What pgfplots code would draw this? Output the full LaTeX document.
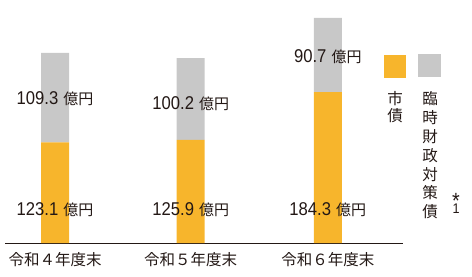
\documentclass[border=0pt]{standalone}
\usepackage{fontspec}
\setmainfont{Noto Sans CJK JP}
\newfontfamily\cjk{Noto Sans CJK JP}
\newfontfamily\num[FakeStretch=0.9]{Liberation Sans}
\usepackage{pgfplots}
\pgfplotsset{compat=1.18}
\definecolor{orng}{HTML}{F7B52C}
\definecolor{gry}{HTML}{C8C8C8}
\definecolor{txt}{HTML}{231815}
\newcommand\val[1]{{\num\fontsize{18.5bp}{20bp}\selectfont #1}\hspace{5bp}{\cjk\fontsize{15bp}{16bp}\selectfont 億円}}
\begin{document}
\begin{tikzpicture}
\path[use as bounding box] (0,0) rectangle (472bp,277bp);
\begin{axis}[
  at={(5bp,34bp)}, anchor=south west,
  scale only axis, width=398bp, height=225bp,
  xmin=5, xmax=403, ymin=0, ymax=275,
  ybar stacked, bar width=28bp,
  axis y line=none, axis x line*=bottom,
  x axis line style={-, line width=0.8bp, color=txt},
  xtick={55,190.7,327.8},
  xticklabels={令和４年度末,令和５年度末,令和６年度末},
  major tick length=0pt,
  xticklabel style={font=\cjk\fontsize{15.5bp}{17bp}\selectfont, anchor=center, yshift=-17bp, text=txt},
  clip=false,
]
\addplot[fill=orng, draw=none] coordinates {(55,123.1) (190.7,125.9) (327.8,184.3)};
\addplot[fill=gry, draw=none] coordinates {(55,109.3) (190.7,100.2) (327.8,90.7)};
\coordinate (o1) at (axis cs:55,34.2);
\coordinate (o2) at (axis cs:190.7,34.2);
\coordinate (o3) at (axis cs:327.8,34.2);
\coordinate (g1) at (axis cs:55,168.7);
\coordinate (g2) at (axis cs:190.7,163.4);
\coordinate (g3) at (axis cs:327.8,220.4);
\end{axis}
\node[anchor=base, inner sep=0, text=txt] at (o1) {\val{123.1}};
\node[anchor=base, inner sep=0, text=txt] at (o2) {\val{125.9}};
\node[anchor=base, inner sep=0, text=txt] at (o3) {\val{184.3}};
\node[anchor=base, inner sep=0, text=txt] at (g1) {\val{109.3}};
\node[anchor=base, inner sep=0, text=txt] at (g2) {\val{100.2}};
\node[anchor=base, inner sep=0, text=txt] at (g3) {\val{90.7}};
\fill[orng] (384bp,199bp) rectangle (406bp,222bp);
\fill[gry] (418bp,200bp) rectangle (441bp,223bp);
\node[anchor=north, align=center, inner sep=0, text=txt, font=\cjk\fontsize{15.5bp}{17bp}\selectfont] at (395bp,185.3bp) {市\\債};
\node[anchor=north, align=center, inner sep=0, text=txt, font=\cjk\fontsize{15.5bp}{18.8bp}\selectfont] at (430bp,185.3bp) {臨\\時\\財\\政\\対\\策\\債};
\node[anchor=south, align=center, inner sep=0, text=txt, font=\num\fontsize{14bp}{16bp}\selectfont] at (456bp,63.5bp) {{\fontsize{22bp}{16bp}\selectfont *}\\[-11bp]1};
\end{tikzpicture}
\end{document}
